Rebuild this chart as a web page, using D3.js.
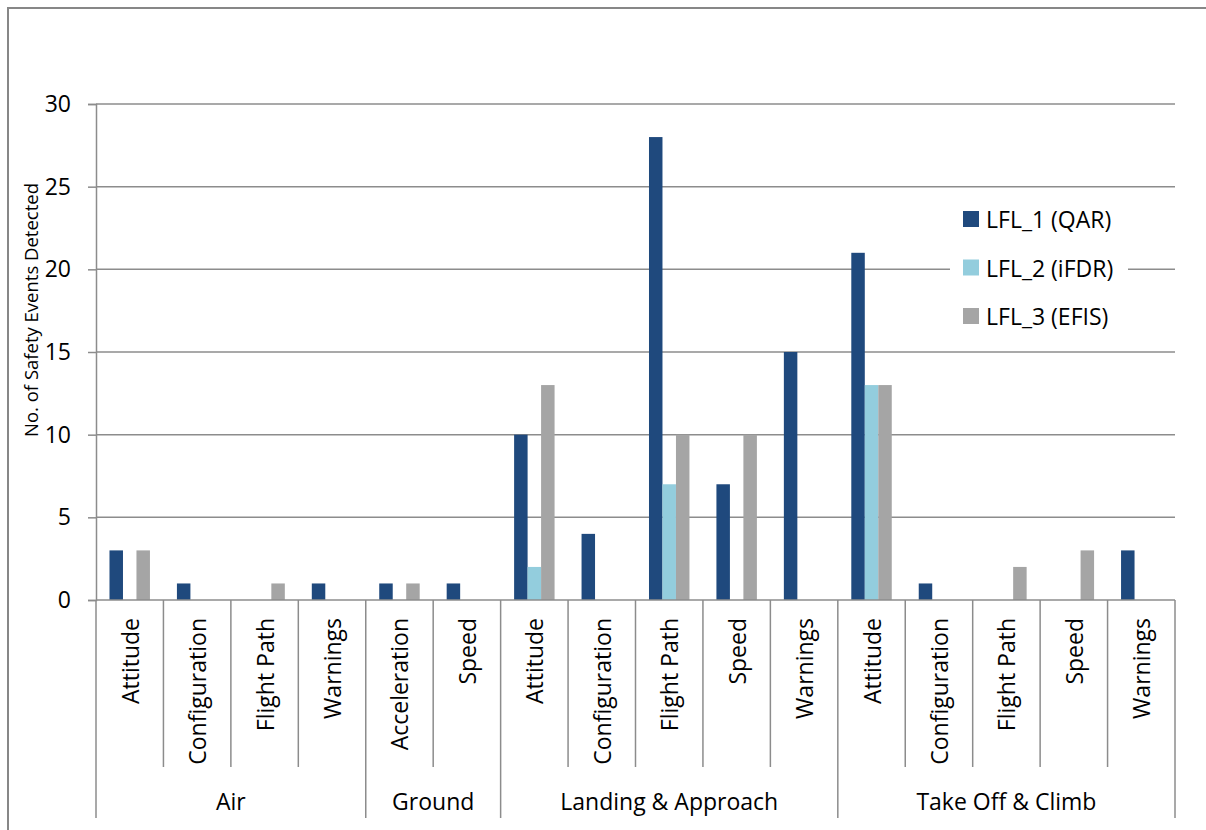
<!DOCTYPE html>
<html>
<head>
<meta charset="utf-8">
<script src="https://cdn.jsdelivr.net/npm/d3@7"></script>
<style>
  body { margin: 0; background: #fff; }
  svg text { font-family: "Open Sans", sans-serif; fill: #000; }
</style>
</head>
<body>
<div id="chart"></div>
<script>
// categories (group + sub-category) and series values
const groups = ["Air", "Ground", "Landing & Approach", "Take Off & Climb"];
const groupSizes = [4, 2, 5, 5];
const categories = [
  "Attitude", "Configuration", "Flight Path", "Warnings",
  "Acceleration", "Speed",
  "Attitude", "Configuration", "Flight Path", "Speed", "Warnings",
  "Attitude", "Configuration", "Flight Path", "Speed", "Warnings"
];
const seriesNames = ["LFL_1 (QAR)", "LFL_2 (iFDR)", "LFL_3 (EFIS)"];
const qar  = [3, 1, 0, 1, 1, 1, 10, 4, 28, 7, 15, 21, 1, 0, 0, 3];
const ifdr = [0, 0, 0, 0, 0, 0, 2, 0, 7, 0, 0, 13, 0, 0, 0, 0];
const efis = [3, 0, 1, 0, 1, 0, 13, 0, 10, 10, 0, 13, 0, 2, 3, 0];
const yTicks = [0, 5, 10, 15, 20, 25, 30];

const colors = ["#1f497d", "#93cddd", "#a5a5a5"];
const gridColor = "#8c8c8c";

const width = 1206, height = 830;
const mLeft = 96, mRight = 1175, mTop = 104, mBottom = 600;

const svg = d3.select("#chart").append("svg")
  .attr("width", width).attr("height", height);

// outer frame (runs off the bottom/right edge like the original)
svg.append("rect")
  .attr("x", 8).attr("y", 8)
  .attr("width", 1220).attr("height", 900)
  .attr("fill", "none").attr("stroke", "#878787").attr("stroke-width", 2);

const x = d3.scaleBand()
  .domain(d3.range(categories.length))
  .range([mLeft, mRight])
  .paddingInner(0.4).paddingOuter(0.2);
// full-width slot per category (for tick separators)
const slot = (mRight - mLeft) / categories.length;

const y = d3.scaleLinear().domain([0, 30]).range([mBottom, mTop]);

// gridlines
svg.append("g").selectAll("line")
  .data(yTicks.filter(t => t > 0))
  .enter().append("line")
  .attr("x1", mLeft).attr("x2", mRight)
  .attr("y1", d => y(d)).attr("y2", d => y(d))
  .attr("stroke", gridColor).attr("stroke-width", 1.5);

// y axis
const yAxis = svg.append("g")
  .attr("transform", `translate(${mLeft},0)`)
  .call(d3.axisLeft(y).tickValues(yTicks).tickSize(8).tickPadding(17));
yAxis.select(".domain").attr("stroke", gridColor).attr("stroke-width", 1.5);
yAxis.selectAll(".tick line").attr("stroke", gridColor).attr("stroke-width", 1.5);
yAxis.selectAll("text")
  .style("font-family", "'Open Sans', sans-serif")
  .style("font-size", "23px").attr("fill", "#000");

svg.append("text")
  .attr("transform", "translate(38,310) rotate(-90)")
  .attr("text-anchor", "middle")
  .style("font-size", "18.5px")
  .text("No. of Safety Events Detected");

// bars
const series = [qar, ifdr, efis];
const sub = d3.scaleBand().domain([0, 1, 2]).range([0, x.bandwidth()]);
series.forEach((vals, s) => {
  svg.append("g").selectAll("rect")
    .data(vals.map((v, i) => ({ v, i })).filter(d => d.v > 0))
    .enter().append("rect")
    .attr("x", d => x(d.i) + sub(s))
    .attr("y", d => y(d.v))
    .attr("width", sub.bandwidth())
    .attr("height", d => y(0) - y(d.v))
    .attr("fill", colors[s]);
});

// x axis baseline
svg.append("line")
  .attr("x1", mLeft).attr("x2", mRight)
  .attr("y1", mBottom).attr("y2", mBottom)
  .attr("stroke", gridColor).attr("stroke-width", 1.5);

// category separators
const groupStarts = [0];
groupSizes.forEach((n, i) => groupStarts.push(groupStarts[i] + n));
svg.append("g").selectAll("line")
  .data(d3.range(categories.length + 1))
  .enter().append("line")
  .attr("x1", i => mLeft + i * slot).attr("x2", i => mLeft + i * slot)
  .attr("y1", mBottom)
  .attr("y2", i => groupStarts.includes(i) ? 818 : 767)
  .attr("stroke", gridColor).attr("stroke-width", 1.5);

// category labels
svg.append("g").selectAll("text")
  .data(categories)
  .enter().append("text")
  .attr("transform", (d, i) => `translate(${mLeft + (i + 0.5) * slot + 9},618) rotate(-90)`)
  .attr("text-anchor", "end")
  .style("font-size", "23px")
  .text(d => d);

// group labels
svg.append("g").selectAll("text")
  .data(groups)
  .enter().append("text")
  .attr("x", (d, i) => mLeft + (groupStarts[i] + groupSizes[i] / 2) * slot)
  .attr("y", 810)
  .attr("text-anchor", "middle")
  .style("font-size", "23px")
  .text(d => d);

// legend
const legend = svg.append("g").attr("transform", "translate(950,195)");
legend.append("rect")
  .attr("x", 0).attr("y", 0).attr("width", 178).attr("height", 145)
  .attr("fill", "#fff");
const items = legend.selectAll("g")
  .data(seriesNames)
  .enter().append("g")
  .attr("transform", (d, i) => `translate(13,${16 + i * 48.5})`);
items.append("rect")
  .attr("width", 16).attr("height", 16)
  .attr("fill", (d, i) => colors[i]);
items.append("text")
  .attr("x", 23).attr("y", 17)
  .style("font-size", "23px")
  .text(d => d);
</script>
</body>
</html>
